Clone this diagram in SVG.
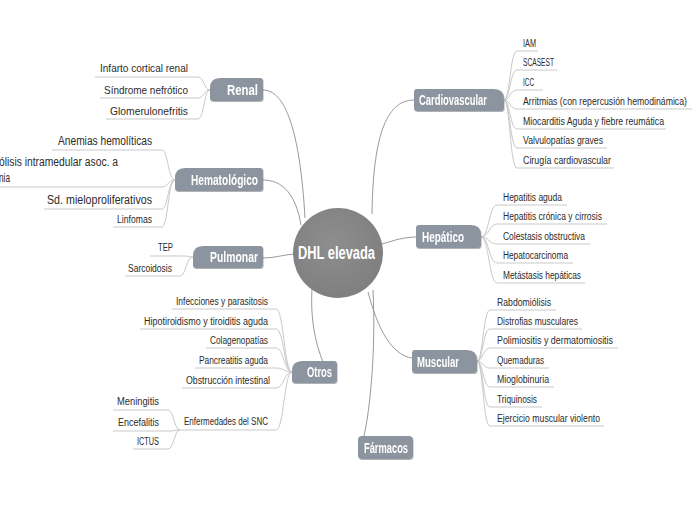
<svg xmlns="http://www.w3.org/2000/svg" width="696" height="520" viewBox="0 0 696 520">
<style>
text{font-family:"Liberation Sans Narrow","Liberation Sans",Arial,sans-serif;}
.main{fill:none;stroke:#9a9a9a;stroke-width:1;}
.sub{fill:none;stroke:#c9c9c9;stroke-width:1;}
.box{fill:#8c959f;}
.tl{fill:#ffffff;font-weight:bold;font-size:14px;}
.lf{fill:#2b2b2b;font-size:10px;}
.lfL{fill:#2b2b2b;font-size:11.5px;}
.lfH{fill:#2b2b2b;font-size:12.5px;}
</style>
<defs>
<filter id="sh" x="-10%" y="-20%" width="120%" height="150%">
<feDropShadow dx="0.5" dy="1" stdDeviation="0.7" flood-color="#000" flood-opacity="0.3"/>
</filter>
<radialGradient id="cg" cx="0.45" cy="0.4" r="0.65">
<stop offset="0" stop-color="#8e8e8e"/>
<stop offset="1" stop-color="#7e7e7e"/>
</radialGradient>
</defs>
<rect width="696" height="520" fill="#ffffff"/>
<g id="connectors">
<path class="main" d="M263,90 C285,90 300,130 305,218"/>
<path class="main" d="M263,180 C283,180 296,195 301,225"/>
<path class="main" d="M263,258 C275,258 282,255 294,254"/>
<path class="main" d="M312,288 C310,320 316,345 323,362"/>
<path class="main" d="M372,214 C373,140 385,100 414,100"/>
<path class="main" d="M382,244 C395,240 405,237 416,237"/>
<path class="main" d="M368,292 C378,330 392,355 412,358"/>
<path class="main" d="M373,290 C376,350 370,410 364,436"/>
<path class="sub" d="M504,100 C510,100 510,51 517,51 H538"/>
<path class="sub" d="M504,100 C510,100 510,70 517,70 H557"/>
<path class="sub" d="M504,100 C510,100 510,90 517,90 H543"/>
<path class="sub" d="M504,100 C510,100 510,109 517,109 H692"/>
<path class="sub" d="M504,100 C510,100 510,129 517,129 H666"/>
<path class="sub" d="M504,100 C510,100 510,148 517,148 H607"/>
<path class="sub" d="M504,100 C510,100 510,168 517,168 H614"/>
<path class="sub" d="M481,237 C489,237 489,205 497,205 H567"/>
<path class="sub" d="M481,237 C489,237 489,224 497,224 H607"/>
<path class="sub" d="M481,237 C489,237 489,244 497,244 H590"/>
<path class="sub" d="M481,237 C489,237 489,263 497,263 H573"/>
<path class="sub" d="M481,237 C489,237 489,283 497,283 H585"/>
<path class="sub" d="M477,361 C483,361 483,310 490,310 H556"/>
<path class="sub" d="M477,361 C483,361 483,329 490,329 H582"/>
<path class="sub" d="M477,361 C483,361 483,348 490,348 H618"/>
<path class="sub" d="M477,361 C483,361 483,368 490,368 H549"/>
<path class="sub" d="M477,361 C483,361 483,387 490,387 H554"/>
<path class="sub" d="M477,361 C483,361 483,407 490,407 H542"/>
<path class="sub" d="M477,361 C483,361 483,426 490,426 H604"/>
<path class="sub" d="M95,77 H198 C204,77 204,90 210,90"/>
<path class="sub" d="M100,98 H198 C204,98 204,90 210,90"/>
<path class="sub" d="M106,119 H198 C204,119 204,90 210,90"/>
<path class="sub" d="M52,150 H162 C168,150 168,180 175,180"/>
<path class="sub" d="M0,187 H162 C168,187 168,180 175,180"/>
<path class="sub" d="M44,209 H162 C168,209 168,180 175,180"/>
<path class="sub" d="M113,227 H162 C168,227 168,180 175,180"/>
<path class="sub" d="M150,256 H185 C189,256 189,257 193,257"/>
<path class="sub" d="M125,276 H180 C186,276 186,257 193,257"/>
<path class="sub" d="M172,309 H276 C284,309 284,372 292,372"/>
<path class="sub" d="M140,329 H276 C284,329 284,372 292,372"/>
<path class="sub" d="M206,348 H276 C284,348 284,372 292,372"/>
<path class="sub" d="M195,368 H276 C284,368 284,372 292,372"/>
<path class="sub" d="M182,388 H276 C284,388 284,372 292,372"/>
<path class="sub" d="M180,430 H276 C284,430 284,372 292,372"/>
<path class="sub" d="M113,410 H168 C174,410 174,430 180,430"/>
<path class="sub" d="M113,431 H170 C175,431 175,430 180,430"/>
<path class="sub" d="M133,449 H168 C174,449 174,430 180,430"/>
</g>
<g id="center">
<circle cx="338" cy="253" r="45" fill="url(#cg)"/>
<text x="298" y="259" fill="#fff" font-weight="bold" font-size="18" textLength="77" lengthAdjust="spacingAndGlyphs">DHL elevada</text>
</g>
<g id="renal" filter="url(#sh)">
<path class="box" d="M220,78 H260 Q263,78 263,81 V98 Q263,101 260,101 H213 Q210,101 210,98 V88 Q210,78 220,78 Z"/>
<text class="tl" x="227" y="95" textLength="31" lengthAdjust="spacingAndGlyphs">Renal</text>
</g>
<g id="hematologico" filter="url(#sh)">
<path class="box" d="M185,168 H260 Q263,168 263,171 V188 Q263,191 260,191 H178 Q175,191 175,188 V178 Q175,168 185,168 Z"/>
<text class="tl" x="191" y="185" textLength="67" lengthAdjust="spacingAndGlyphs">Hematológico</text>
</g>
<g id="pulmonar" filter="url(#sh)">
<path class="box" d="M203,246 H260 Q263,246 263,249 V265 Q263,268 260,268 H196 Q193,268 193,265 V256 Q193,246 203,246 Z"/>
<text class="tl" x="210" y="262" textLength="48" lengthAdjust="spacingAndGlyphs">Pulmonar</text>
</g>
<g id="otros" filter="url(#sh)">
<path class="box" d="M302,361 H334 Q337,361 337,364 V380 Q337,383 334,383 H295 Q292,383 292,380 V371 Q292,361 302,361 Z"/>
<text class="tl" x="307" y="377" textLength="25" lengthAdjust="spacingAndGlyphs">Otros</text>
</g>
<g id="cardiovascular" filter="url(#sh)">
<path class="box" d="M417,89 H494 Q504,89 504,99 V108 Q504,111 501,111 H417 Q414,111 414,108 V92 Q414,89 417,89 Z"/>
<text class="tl" x="419" y="105" textLength="68" lengthAdjust="spacingAndGlyphs">Cardiovascular</text>
</g>
<g id="hepatico" filter="url(#sh)">
<path class="box" d="M419,225 H471 Q481,225 481,235 V245 Q481,248 478,248 H419 Q416,248 416,245 V228 Q416,225 419,225 Z"/>
<text class="tl" x="422" y="242" textLength="42" lengthAdjust="spacingAndGlyphs">Hepático</text>
</g>
<g id="muscular" filter="url(#sh)">
<path class="box" d="M415,350 H467 Q477,350 477,360 V370 Q477,373 474,373 H415 Q412,373 412,370 V353 Q412,350 415,350 Z"/>
<text class="tl" x="417" y="367" textLength="42" lengthAdjust="spacingAndGlyphs">Muscular</text>
</g>
<g id="farmacos" filter="url(#sh)">
<rect class="box" x="358" y="436" width="55" height="23" rx="4"/>
<text class="tl" x="364" y="453" textLength="44" lengthAdjust="spacingAndGlyphs">Fármacos</text>
</g>
<g id="cardiovascular-items">
<text class="lf" x="523" y="47" textLength="13" lengthAdjust="spacingAndGlyphs">IAM</text>
<text class="lf" x="523" y="66" textLength="31" lengthAdjust="spacingAndGlyphs">SCASEST</text>
<text class="lf" x="523" y="86" textLength="11" lengthAdjust="spacingAndGlyphs">ICC</text>
<text class="lf" x="523" y="105" font-size="8.8" textLength="164" lengthAdjust="spacingAndGlyphs">Arritmias (con repercusión hemodinámica)</text>
<text class="lf" x="523" y="125" textLength="141" lengthAdjust="spacingAndGlyphs">Miocarditis Aguda y fiebre reumática</text>
<text class="lf" x="523" y="144" textLength="80" lengthAdjust="spacingAndGlyphs">Valvulopatías graves</text>
<text class="lf" x="523" y="164" textLength="88" lengthAdjust="spacingAndGlyphs">Cirugía cardiovascular</text>
</g>
<g id="hepatico-items">
<text class="lf" x="503" y="201" textLength="59" lengthAdjust="spacingAndGlyphs">Hepatitis aguda</text>
<text class="lf" x="503" y="220" textLength="99" lengthAdjust="spacingAndGlyphs">Hepatitis crónica y cirrosis</text>
<text class="lf" x="503" y="240" textLength="82" lengthAdjust="spacingAndGlyphs">Colestasis obstructiva</text>
<text class="lf" x="503" y="259" textLength="65" lengthAdjust="spacingAndGlyphs">Hepatocarcinoma</text>
<text class="lf" x="503" y="279" textLength="78" lengthAdjust="spacingAndGlyphs">Metástasis hepáticas</text>
</g>
<g id="muscular-items">
<text class="lf" x="497" y="306" textLength="54" lengthAdjust="spacingAndGlyphs">Rabdomiólisis</text>
<text class="lf" x="497" y="325" textLength="81" lengthAdjust="spacingAndGlyphs">Distrofias musculares</text>
<text class="lf" x="497" y="344" textLength="116" lengthAdjust="spacingAndGlyphs">Polimiositis y dermatomiositis</text>
<text class="lf" x="497" y="364" textLength="47" lengthAdjust="spacingAndGlyphs">Quemaduras</text>
<text class="lf" x="497" y="383" textLength="52" lengthAdjust="spacingAndGlyphs">Mioglobinuria</text>
<text class="lf" x="497" y="403" textLength="40" lengthAdjust="spacingAndGlyphs">Triquinosis</text>
<text class="lf" x="497" y="422" textLength="103" lengthAdjust="spacingAndGlyphs">Ejercicio muscular violento</text>
</g>
<g id="renal-items">
<text class="lfL" x="100" y="72" textLength="88" lengthAdjust="spacingAndGlyphs">Infarto cortical renal</text>
<text class="lfL" x="104" y="94" textLength="84" lengthAdjust="spacingAndGlyphs">Síndrome nefrótico</text>
<text class="lfL" x="110" y="115" textLength="78" lengthAdjust="spacingAndGlyphs">Glomerulonefritis</text>
</g>
<g id="hematologico-items">
<text class="lfH" x="58" y="145" textLength="94" lengthAdjust="spacingAndGlyphs">Anemias hemolíticas</text>
<text class="lfH" x="-1" y="166" textLength="119" lengthAdjust="spacingAndGlyphs">ólisis intramedular asoc. a</text>
<text class="lfH" x="-1" y="182" textLength="11" lengthAdjust="spacingAndGlyphs">nia</text>
<text class="lfH" x="47" y="204" textLength="105" lengthAdjust="spacingAndGlyphs">Sd. mieloproliferativos</text>
<text class="lf" x="117" y="223" textLength="35" lengthAdjust="spacingAndGlyphs">Linfomas</text>
</g>
<g id="pulmonar-items">
<text class="lfL" x="158" y="251" textLength="15" lengthAdjust="spacingAndGlyphs">TEP</text>
<text class="lfL" x="128" y="272" textLength="44" lengthAdjust="spacingAndGlyphs">Sarcoidosis</text>
</g>
<g id="otros-items">
<text class="lf" x="176" y="305" textLength="92" lengthAdjust="spacingAndGlyphs">Infecciones y parasitosis</text>
<text class="lf" x="144" y="325" textLength="124" lengthAdjust="spacingAndGlyphs">Hipotiroidismo y tiroiditis aguda</text>
<text class="lf" x="210" y="344" textLength="58" lengthAdjust="spacingAndGlyphs">Colagenopatías</text>
<text class="lf" x="199" y="364" textLength="69" lengthAdjust="spacingAndGlyphs">Pancreatitis aguda</text>
<text class="lf" x="186" y="384" textLength="84" lengthAdjust="spacingAndGlyphs">Obstrucción intestinal</text>
<text class="lf" x="184" y="425" textLength="84" lengthAdjust="spacingAndGlyphs">Enfermedades del SNC</text>
</g>
<g id="snc-items">
<text class="lf" x="117" y="405" textLength="42" lengthAdjust="spacingAndGlyphs">Meningitis</text>
<text class="lf" x="118" y="426" textLength="41" lengthAdjust="spacingAndGlyphs">Encefalitis</text>
<text class="lf" x="137" y="445" textLength="22" lengthAdjust="spacingAndGlyphs">ICTUS</text>
</g>
</svg>
